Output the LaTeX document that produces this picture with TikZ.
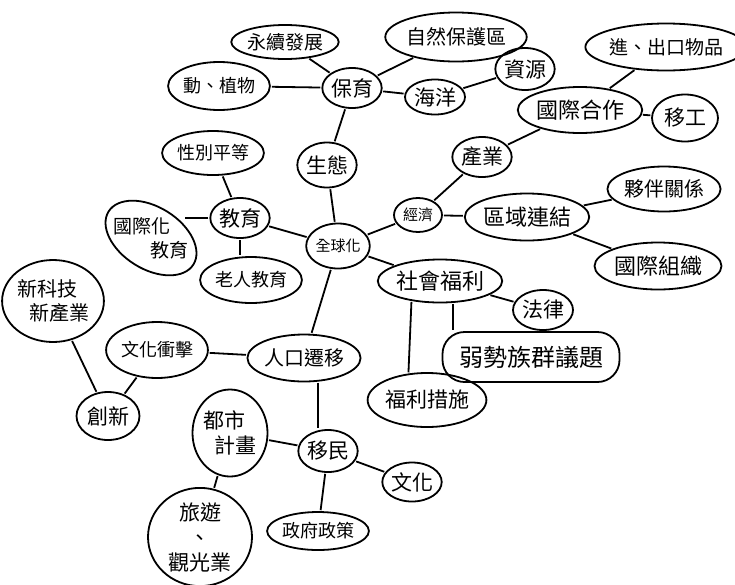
\documentclass[tikz,border=0pt]{standalone}
\usepackage{fontspec}
\newfontfamily\cjk{Noto Sans CJK TC}
\usetikzlibrary{shapes.geometric}
\tikzset{
  bub/.style={ellipse, draw=black, line width=1.8pt, inner sep=0pt, font=\cjk\fontsize{21}{25}\selectfont, align=center},
  sz/.style 2 args={minimum width=#1pt, minimum height=#2pt},
  fs/.style={font=\cjk\fontsize{#1}{24}\selectfont},
  link/.style={line width=1.8pt, black, shorten <=1pt, shorten >=1pt}
}
\begin{document}
\begin{tikzpicture}[x=1pt,y=-1pt]
\useasboundingbox (0,0) rectangle (735,584);
% nodes
\node[bub, sz={50}{40}] (bao) at (352,88) {保育};
\node[bub, fs=19, sz={92}{34}] (yong) at (285,42) {永續發展};
\node[bub, fs=18, sz={82}{48}] (dong) at (219,86) {動、植物};
\node[bub, fs=20, sz={112}{49}] (zi) at (456,37) {自然保護區};
\node[bub, sz={60}{35}] (hai) at (435,97) {海洋};
\node[bub, sz={54}{42}] (ziyuan) at (525,69) {資源};
\node[bub, sz={59}{45}] (sheng) at (327,165) {生態};
\node[bub, fs=15, sz={52}{45}] (quan) at (338,246) {全球化};
\node[bub, fs=15, sz={48}{34}] (jing) at (418,215) {經濟};
\node[bub, sz={57}{40}] (chan) at (482,157) {產業};
\node[bub, fs=22, sz={114}{46}] (guo) at (580,110) {國際合作};
\node[bub, fs=19, sz={133}{47}] (jin) at (666,47) {進、出口物品};
\node[bub, sz={66}{47}] (yi) at (685,118) {移工};
\node[bub, fs=22, sz={111}{47}] (qu) at (527,217) {區域連結};
\node[bub, fs=20, sz={102}{45}] (huo) at (664,189) {夥伴關係};
\node[bub, fs=22, sz={127}{47}] (zu) at (658,266) {國際組織};
\node[bub, fs=22, sz={114}{43}] (she) at (440,281) {社會福利};
\node[bub, sz={60}{40}] (fa) at (543,310) {法律};
\node[bub, rectangle, rounded corners=22pt, fs=24, sz={177}{50}] (ruo) at (531,357) {弱勢族群議題};
\node[bub, fs=21, sz={107}{54}] (fu) at (427,400) {福利措施};
\node[bub, sz={55}{40}] (jiao) at (240,218) {教育};
\node[bub, fs=18, sz={88}{44}] (xing) at (213,153) {性別平等};
\node[ellipse, inner sep=0pt, sz={66}{50},
      label={[fs=19, align=left, inner sep=0pt]center:{國際化\\\hspace*{1.9em}教育}}] (gj) at (151,238) {};
\draw[line width=1.8pt] (gj.center) ellipse[x radius=50, y radius=31, rotate=-32];
\node[bub, fs=18, sz={83}{46}] (lao) at (251,280) {老人教育};
\node[bub, fs=20, sz={102}{47}] (ren) at (304,358) {人口遷移};
\node[bub, fs=18, sz={87}{56}] (wen) at (157,350) {文化衝擊};
\node[bub, sz={63}{48}] (chuang) at (108,416) {創新};
\node[bub, fs=20, align=left, sz={93}{82}] (xin) at (53,301) {新科技\\\hspace*{0.6em}新產業};
\node[bub, align=left, sz={75}{87}] (du) at (230,433) {都市\\\hspace*{0.5em}計畫};
\node[bub, sz={104}{93}] (lv) at (200,537) {旅遊\\、\\觀光業};
\node[bub, sz={53}{42}] (min) at (328,451) {移民};
\node[bub, sz={57}{39}] (wh) at (412,482) {文化};
\node[bub, fs=18, sz={91}{38}] (zheng) at (318,531) {政府政策};
% connectors
\draw[link] (bao) -- (yong);
\draw[link] (bao) -- (dong);
\draw[link] (bao) -- (zi);
\draw[link] (bao) -- (hai);
\draw[link] (bao) -- (sheng);
\draw[link] (hai) -- (ziyuan);
\draw[link] (sheng) -- (quan);
\draw[link] (quan) -- (jing);
\draw[link] (jing) -- (chan);
\draw[link] (chan) -- (guo);
\draw[link] (guo) -- (jin);
\draw[link] (guo) -- (yi);
\draw[link] (jing) -- (qu);
\draw[link] (qu) -- (huo);
\draw[link] (qu) -- (zu);
\draw[link] (quan) -- (she);
\draw[link] (she) -- (fa);
\draw[link] (she.300) -- (she.300 |- ruo.north);
\draw[link] (she.215) -- (fu.125);
\draw[link] (quan) -- (jiao);
\draw[link] (jiao) -- (xing);
\draw[link] (jiao.west) -- (gj.east |- jiao.west);
\draw[link] (jiao.south) -- (lao.north -| jiao.south);
\draw[link] (quan) -- (ren);
\draw[link] (ren) -- (wen);
\draw[link] (wen) -- (chuang);
\draw[link] (chuang) -- (xin);
\draw[link] (ren.300) -- (ren.300 |- min.north);
\draw[link] (min) -- (du);
\draw[link] (min) -- (wh);
\draw[link] (min) -- (zheng);
\draw[link] (du) -- (lv);
\end{tikzpicture}
\end{document}
